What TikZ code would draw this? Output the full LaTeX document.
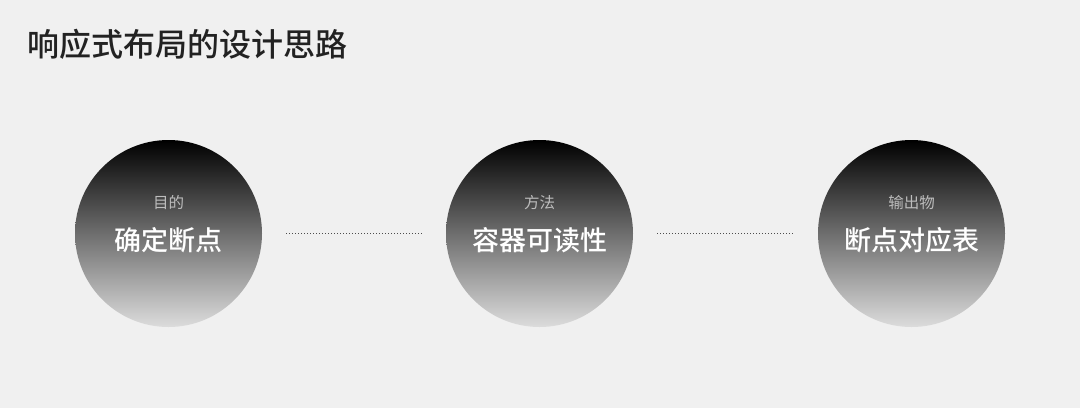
\documentclass[tikz,border=0pt]{standalone}
\usepackage{fontspec}
\newfontfamily\cjk{Noto Sans CJK SC}[BoldFont={Noto Sans CJK SC Medium}]
\definecolor{bgcolor}{HTML}{F0F0F0}
\definecolor{titlecolor}{HTML}{222222}
\definecolor{subcolor}{HTML}{BDBDBD}
\definecolor{ballbottom}{HTML}{DCDCDC}
\tikzset{
  ball/.style={circle, minimum size=187pt, inner sep=0pt, top color=black, bottom color=ballbottom},
  subtext/.style={font=\cjk\fontsize{15.5}{15.5}\selectfont, text=subcolor, inner sep=0pt},
  maintext/.style={font=\cjk\bfseries\fontsize{27}{27}\selectfont, text=white, inner sep=0pt},
  link/.style={line width=1pt, draw=black!70, dash pattern=on 1pt off 2pt, shorten <=24pt, shorten >=23pt}
}
\begin{document}
\begin{tikzpicture}[x=1pt,y=-1pt]

\def \cy {233.5}

\fill[bgcolor] (0,0) rectangle (1080,408);
\node[anchor=west, inner sep=0pt, text=titlecolor, font=\cjk\bfseries\fontsize{32}{32}\selectfont] (title) at (27,44) {响应式布局的设计思路};

\foreach \name/\x/\lblsub/\lblmain in {goal/168.5/目的/确定断点, method/539.5/方法/容器可读性, output/911.5/输出物/断点对应表}
{
  \node[ball] (\name) at (\x,\cy) {};
  \node[subtext] (\name-sub) at (\x,203) {\lblsub};
  \node[maintext] (\name-main) at (\x,240) {\lblmain};
}

\draw[link] (goal) -- (method);
\draw[link] (method) -- (output);
\end{tikzpicture}
\end{document}
